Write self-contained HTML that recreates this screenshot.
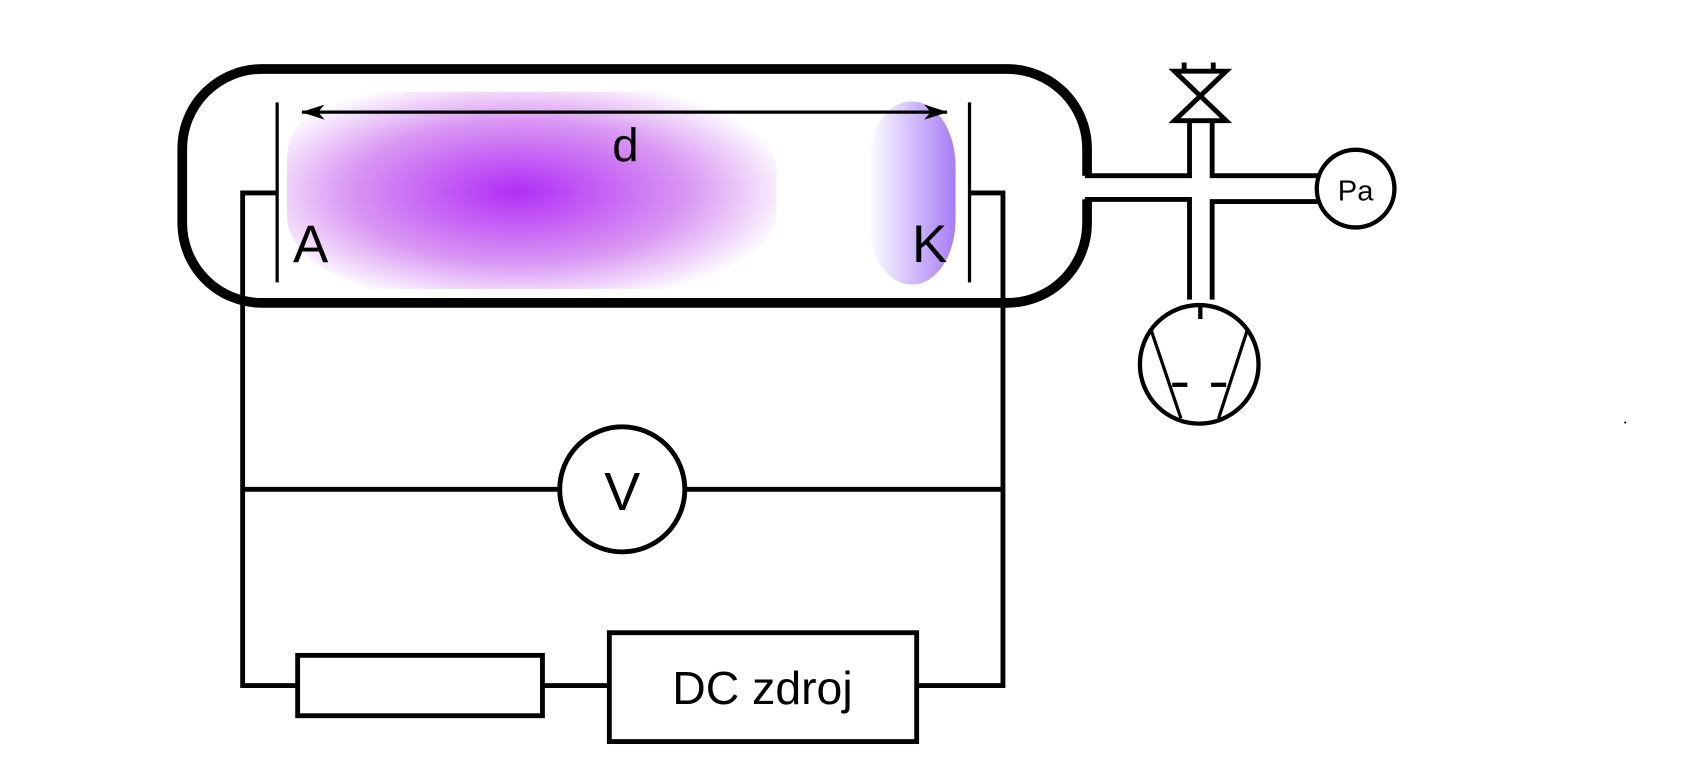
<!DOCTYPE html>
<html><head><meta charset="utf-8"><style>
html,body{margin:0;padding:0;background:#fff;}
svg{display:block;}
text{font-family:"Liberation Sans",sans-serif;}
</style></head><body>
<svg width="1691" height="775" viewBox="0 0 1568 719" preserveAspectRatio="none" xmlns="http://www.w3.org/2000/svg">
<defs>
<radialGradient id="pg2" cx="480" cy="178" r="260" gradientUnits="userSpaceOnUse" gradientTransform="translate(480 178) scale(1 0.42) translate(-480 -178)">
<stop offset="0" stop-color="#b22ef7"/>
<stop offset="0.6" stop-color="#d996f3"/>
<stop offset="1" stop-color="#ffffff"/>
</radialGradient>
<linearGradient id="kg" x1="0" y1="0" x2="1" y2="0">
<stop offset="0" stop-color="#ffffff"/>
<stop offset="1" stop-color="#a77cf5"/>
</linearGradient>
<marker id="ah" markerWidth="22" markerHeight="14" refX="21" refY="7" orient="auto-start-reverse" markerUnits="userSpaceOnUse">
<path d="M0,0 L22,7 L0,14 L6,7 z" fill="#000"/>
</marker>
</defs>
<path d="M330,85 L640,85 Q720,120 720,160 L720,195 Q720,240 640,268 L340,268 Q266,240 266,200 L266,150 Q266,100 330,85 z" fill="url(#pg2)"/>
<rect x="805" y="94" width="81" height="170" rx="40" ry="60" fill="url(#kg)"/>
<path d="M1008,163 L1008,138 A74,74 0 0 0 934,64 L243,64 A74,74 0 0 0 169,138 L169,207 A74,74 0 0 0 243,281 L934,281 A74,74 0 0 0 1008,207 L1008,185" fill="none" stroke="#000" stroke-width="9"/>
<line x1="257" y1="95" x2="257" y2="262" stroke="#000" stroke-width="3"/>
<line x1="899" y1="95" x2="899" y2="262" stroke="#000" stroke-width="3"/>
<line x1="280" y1="104" x2="878" y2="104" stroke="#000" stroke-width="3" marker-start="url(#ah)" marker-end="url(#ah)"/>
<text x="580" y="150" font-size="44" text-anchor="middle">d</text>
<text x="288" y="243" font-size="49" text-anchor="middle">A</text>
<text x="862" y="243" font-size="49" text-anchor="middle">K</text>
<g fill="none" stroke="#000" stroke-width="4.5">
<polyline points="257,179 225,179 225,636 275,636"/>
<polyline points="899,179 930,179 930,636 850,636"/>
<line x1="225" y1="454" x2="519" y2="454"/>
<line x1="636" y1="454" x2="930" y2="454"/>
<circle cx="577" cy="454" r="58"/>
<rect x="276" y="608" width="227" height="56"/>
<line x1="503" y1="636" x2="565" y2="636"/>
<rect x="565" y="587" width="285" height="101"/>
</g>
<text x="577" y="473" font-size="50" text-anchor="middle">V</text>
<text x="707" y="653" font-size="43" text-anchor="middle">DC zdroj</text>
<g fill="none" stroke="#000" stroke-width="4.5">
<polyline points="1006,163 1103,163 1103,112"/>
<polyline points="1006,185 1103,185 1103,278"/>
<polyline points="1124,112 1124,163 1222,163"/>
<polyline points="1124,278 1124,187 1222,187"/>
<circle cx="1257" cy="175" r="36" stroke-width="4"/>
<circle cx="1112" cy="338" r="55" stroke-width="4"/>
<path d="M1089,66 L1137,66 L1089,112 L1137,112 z" stroke-width="4.5"/>
<line x1="1098" y1="58" x2="1098" y2="66"/>
<line x1="1125" y1="58" x2="1125" y2="66"/>
<line x1="1113" y1="283" x2="1113" y2="296" stroke-width="4"/>
<line x1="1067" y1="305" x2="1095" y2="388" stroke-width="3"/>
<line x1="1157" y1="305" x2="1130" y2="388" stroke-width="3"/>
<line x1="1087" y1="357" x2="1101" y2="357" stroke-width="4"/>
<line x1="1123" y1="357" x2="1137" y2="357" stroke-width="4"/>
</g>
<text x="1257" y="186" font-size="27" text-anchor="middle">Pa</text>
<circle cx="1507" cy="392" r="1" fill="#000"/>
</svg>
</body></html>
